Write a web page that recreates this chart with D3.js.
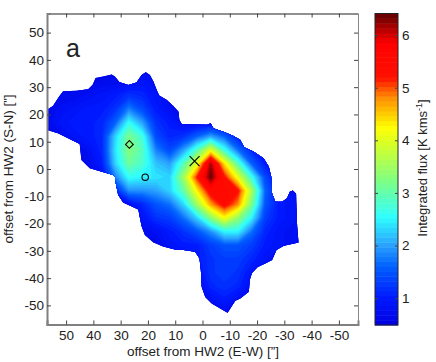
<!DOCTYPE html>
<html>
<head>
<meta charset="utf-8">
<style>
  html, body { margin: 0; padding: 0; background: #fff; }
  svg { display: block; }
  text { font-family: "Liberation Sans", Arial, sans-serif; fill: #222; }
</style>
<script src="https://cdnjs.cloudflare.com/ajax/libs/d3/7.8.5/d3.min.js"></script>
</head>
<body>
<svg id="chart" width="436" height="362"></svg>
<script>
'use strict';

// offsets of the map samples, arcsec
var xCols = [57, 52, 47, 42, 37, 32, 27, 22, 17, 12, 7, 2, -3, -8, -13, -18, -23, -28, -33, -38];
var yRows = [37, 32, 27, 22, 17, 12, 7, 2, -3, -8, -13, -18, -23, -28, -33, -38, -43, -48, -53];

// integrated flux, one row per yRows entry
var flux = [
  [.6, .6, .6, .6, .6, .6, .6, .7, .7, .6, .6, .6, .6, .6, .6, .6, .6, .6, .6, .6],
  [.6, .6, .6, .6, .7, .7, .8, .9, .8, .6, .6, .6, .6, .6, .6, .6, .6, .6, .6, .6],
  [.6, .7, .7, .8, .9, 1.0, 1.2, 1.1, .9, .7, .6, .6, .6, .6, .6, .6, .6, .6, .6, .6],
  [.7, .8, .9, 1.0, 1.0, 1.2, 1.8, 1.4, 1.0, .8, .6, .6, .6, .6, .6, .6, .6, .6, .6, .6],
  [.7, .9, 1.0, 1.0, 1.1, 1.6, 2.6, 2.0, 1.2, 1.0, .8, .8, .8, .7, .6, .6, .6, .6, .6, .6],
  [.6, .7, .9, 1.0, 1.1, 2.3, 3.2, 2.7, 1.4, 1.1, 1.2, 1.6, 2.0, 1.6, 1.0, .8, .6, .6, .6, .6],
  [.6, .6, .6, .8, 1.1, 2.4, 3.3, 2.9, 1.8, 1.4, 2.0, 2.9, 4.1, 2.7, 1.7, 1.1, .8, .6, .6, .6],
  [.6, .6, .6, .7, 1.0, 2.3, 3.1, 2.8, 2.2, 2.0, 2.9, 4.1, 6.2, 4.4, 2.9, 1.6, 1.0, .7, .6, .6],
  [.6, .6, .6, .6, .8, 1.8, 2.6, 2.5, 2.4, 2.3, 3.5, 5.2, 6.4, 5.3, 4.1, 2.7, 1.4, .8, .6, .6],
  [.6, .6, .6, .6, .7, 1.1, 1.9, 1.9, 2.0, 2.3, 3.0, 4.3, 5.5, 5.5, 5.3, 3.6, 1.6, 1.0, .8, .8],
  [.6, .6, .6, .6, .6, .6, .8, 1.1, 1.5, 1.7, 2.3, 3.5, 4.7, 5.4, 4.8, 3.2, 1.5, 1.0, .9, .8],
  [.6, .6, .6, .6, .6, .6, .6, .9, 1.2, 1.3, 1.7, 2.3, 3.3, 4.2, 3.4, 2.5, 1.3, 1.0, .9, .8],
  [.6, .6, .6, .6, .6, .6, .6, .7, .8, 1.0, 1.2, 1.5, 1.9, 2.5, 2.5, 1.7, 1.1, .9, .8, .7],
  [.6, .6, .6, .6, .6, .6, .6, .6, .6, .9, 1.0, 1.0, 1.3, 1.5, 1.5, 1.3, 1.0, .9, .8, .7],
  [.6, .6, .6, .6, .6, .6, .6, .6, .6, .6, .7, 1.0, 1.2, 1.3, 1.3, 1.1, .9, .7, .6, .6],
  [.6, .6, .6, .6, .6, .6, .6, .6, .6, .6, .6, .9, 1.2, 1.3, 1.2, .9, .7, .6, .6, .6],
  [.6, .6, .6, .6, .6, .6, .6, .6, .6, .6, .6, .7, 1.1, 1.2, 1.1, .8, .6, .6, .6, .6],
  [.6, .6, .6, .6, .6, .6, .6, .6, .6, .6, .6, .6, .8, 1.0, .8, .6, .6, .6, .6, .6],
  [.6, .6, .6, .6, .6, .6, .6, .6, .6, .6, .6, .6, .6, .7, .6, .6, .6, .6, .6, .6]
];

// edge of the observed area, clockwise from the left frame
var outline = [
  [57, 21.7], [54.8, 23.1], [52.6, 26.5], [51.1, 28.5], [46.2, 28.7], [41.9, 29.2], [40.3, 30.8],
  [39.2, 33.4], [36.4, 33.9], [33.3, 34.6], [32.1, 33.9], [30.5, 31.9], [27.2, 30.8], [24.2, 31.7],
  [22.3, 34.5], [20.8, 35.5], [19.3, 34.5], [18, 32], [16.8, 29], [15.9, 26.9], [13.1, 25.3],
  [10.7, 23.1], [8.8, 21], [8.5, 18], [7.6, 16.5], [-1.6, 16.2], [-3, 16.8], [-4, 14.9], [-6.5, 14],
  [-7.7, 13.7], [-11.4, 12.1], [-13.8, 10.7], [-15.3, 8], [-18.7, 6.4], [-22.4, 3.9], [-24.3, .9],
  [-25.2, -2.8], [-25.5, -8.9], [-26.7, -12], [-29.2, -12], [-31, -10.7], [-32, -8.3], [-33.1, -7.9],
  [-34.3, -9.1], [-34.4, -13.8], [-34.7, -21.1], [-35.2, -26.9], [-29.8, -28.1], [-27.1, -29.7],
  [-25.5, -33.4], [-23, -34.6], [-20.2, -35.9], [-18.1, -38.1], [-17.3, -40.7], [-17, -45],
  [-13.8, -47.5], [-12, -48.3], [-9.2, -52.7], [-6.5, -51.1], [-3.4, -49.3], [-1, -46.9], [.3, -43.2],
  [.6, -37.1], [1.1, -32.8], [2.7, -30.3], [7, -29.7], [9.4, -29.7], [14.4, -28.4], [18, -26.9],
  [21.1, -24.2], [22.3, -21.1], [22.9, -18.1], [23.5, -14.8], [29.1, -12.3], [30.9, -9.5], [31.8, -5.2],
  [32.1, -2.8], [32.7, -2.2], [41.3, .3], [44.4, 3.3], [45, 9.2], [53, 13.1], [57, 14.3]
];

var xTicks = [50, 40, 30, 20, 10, 0, -10, -20, -30, -40, -50];
var yTicks = [50, 40, 30, 20, 10, 0, -10, -20, -30, -40, -50];
var barTicks = [1, 2, 3, 4, 5, 6];

var diamondMark = [26.8, 9];
var circleMark = [21, -3];
var crossMark = [2.9, 2.9];

var colorStops = [.49, 1.0, 1.6, 2.0, 2.55, 3.25, 4.25, 4.8, 5.2, 5.85, 6.41];
var colorValues = ['#0000e0', '#0018ff', '#0060ff', '#2aa0ff', '#30ffff', '#80ff80', '#ffff00', '#ff9000', '#ff1000', '#ff0000', '#600000'];

var svg = d3.select('#chart'),
  plot = {left: 47, right: 358, top: 13.5, bottom: 324.5},
  bar = {left: 375, right: 398, top: 13.5, bottom: 325},
  levels = 64,
  fluxMin = .49,
  fluxMax = 6.41;

var x = d3.scaleLinear().domain([57, -57]).range([plot.left, plot.right]);
var y = d3.scaleLinear().domain([57, -57]).range([plot.top, plot.bottom]);
var color = d3.scaleLinear().domain(colorStops).range(colorValues);
var barY = d3.scaleLinear().domain([fluxMin, fluxMax]).range([bar.bottom, bar.top]);

var thresholds = d3.range(levels).map(function (i) {
  return fluxMin + (fluxMax - fluxMin) * i / levels;
});

function drawField() {
  var line = d3.line()
    .x(function (d) { return x(d[0]); })
    .y(function (d) { return y(d[1]); })
    .curve(d3.curveLinearClosed);

  svg.append('clipPath').attr('id', 'area')
    .append('path').attr('d', line(outline));

  var nx = xCols.length, ny = yRows.length;
  // d3.contours puts sample i at grid coordinate i + 0.5
  var gx = d3.scaleLinear().domain([.5, nx - .5]).range([x(xCols[0]), x(xCols[nx - 1])]);
  var gy = d3.scaleLinear().domain([.5, ny - .5]).range([y(yRows[0]), y(yRows[ny - 1])]);
  var path = d3.geoPath(d3.geoTransform({
    point: function (px, py) { this.stream.point(gx(px), gy(py)); }
  }));

  var contours = d3.contours().size([nx, ny]).thresholds(thresholds)(d3.merge(flux));

  svg.append('g').attr('clip-path', 'url(#area)')
    .selectAll('path')
    .data(contours)
    .join('path')
    .attr('d', path)
    .attr('fill', function (d) { return color(d.value + (fluxMax - fluxMin) / levels / 2); });
}

function styleAxis(g, stroke, width) {
  g.selectAll('.domain').attr('stroke', stroke).attr('stroke-width', width);
  g.selectAll('.tick line').attr('stroke', '#444').attr('stroke-width', 1);
  g.selectAll('.tick text').attr('font-size', 13.5).attr('fill', '#222');
  g.selectAll('text').attr('font-family', '"Liberation Sans", Arial, sans-serif');
}

function drawAxes() {
  var tick = 4,
    blank = function () { return ''; },
    plain = function (d) { return String(d); };

  svg.append('g').attr('transform', 'translate(0,' + plot.top + ')')
    .call(d3.axisTop(x).tickValues(xTicks).tickSize(-tick).tickFormat(blank))
    .call(styleAxis, '#222', 1);
  svg.append('g').attr('transform', 'translate(' + plot.right + ',0)')
    .call(d3.axisRight(y).tickValues(yTicks).tickSize(-tick).tickFormat(blank))
    .call(styleAxis, '#888', 1);
  svg.append('g').attr('transform', 'translate(0,' + plot.bottom + ')')
    .call(d3.axisBottom(x).tickValues(xTicks).tickSize(-tick).tickPadding(6).tickFormat(plain))
    .call(styleAxis, '#808080', 2);
  svg.append('g').attr('transform', 'translate(' + plot.left + ',0)')
    .call(d3.axisLeft(y).tickValues(yTicks).tickSize(-tick).tickPadding(3).tickFormat(plain))
    .call(styleAxis, '#808080', 2);

  svg.append('text').attr('x', 203).attr('y', 356)
    .attr('text-anchor', 'middle').attr('font-size', 13.5)
    .text('offset from HW2 (E-W) [”]');
  svg.append('text').attr('transform', 'translate(13,169) rotate(-90)')
    .attr('text-anchor', 'middle').attr('font-size', 13.5)
    .text('offset from HW2 (S-N) [”]');
  svg.append('text').attr('x', 66).attr('y', 57).attr('font-size', 25).text('a');
}

function drawMarks() {
  var marks = svg.append('g').attr('fill', 'none').attr('stroke', '#000').attr('stroke-width', 1.1);
  marks.append('path')
    .attr('transform', 'translate(' + x(diamondMark[0]) + ',' + y(diamondMark[1]) + ') rotate(45)')
    .attr('d', d3.symbol().type(d3.symbolSquare).size(30)());
  marks.append('circle')
    .attr('cx', x(circleMark[0])).attr('cy', y(circleMark[1])).attr('r', 3.2);
  marks.append('path')
    .attr('transform', 'translate(' + x(crossMark[0]) + ',' + y(crossMark[1]) + ') rotate(45)')
    .attr('d', 'M-7,0H7M0,-7V7');
}

function drawColorbar() {
  var step = (fluxMax - fluxMin) / levels;
  svg.append('g').selectAll('rect')
    .data(thresholds)
    .join('rect')
    .attr('x', bar.left)
    .attr('width', bar.right - bar.left)
    .attr('y', function (d) { return barY(d + step); })
    .attr('height', function (d) { return barY(d) - barY(d + step) + .5; })
    .attr('fill', function (d) { return color(d + step / 2); });

  svg.append('rect')
    .attr('x', bar.left).attr('y', bar.top)
    .attr('width', bar.right - bar.left).attr('height', bar.bottom - bar.top)
    .attr('fill', 'none').attr('stroke', '#222').attr('stroke-width', 1);

  svg.append('g').attr('transform', 'translate(' + bar.right + ',0)')
    .call(d3.axisRight(barY).tickValues(barTicks).tickSize(-3).tickPadding(4).tickFormat(function (d) { return String(d); }))
    .call(styleAxis, 'none', 0);
  svg.append('g').attr('transform', 'translate(' + bar.left + ',0)')
    .call(d3.axisLeft(barY).tickValues(barTicks).tickSize(-3).tickFormat(function () { return ''; }))
    .call(styleAxis, 'none', 0);

  var label = svg.append('text').attr('transform', 'translate(427,168) rotate(-90)')
    .attr('text-anchor', 'middle').attr('font-size', 13);
  label.append('tspan').text('Integrated flux [K kms');
  label.append('tspan').attr('font-size', 9).attr('dy', -5).text('-1');
  label.append('tspan').attr('dy', 5).text(']');
}

drawField();
drawAxes();
drawMarks();
drawColorbar();
</script>
</body>
</html>
